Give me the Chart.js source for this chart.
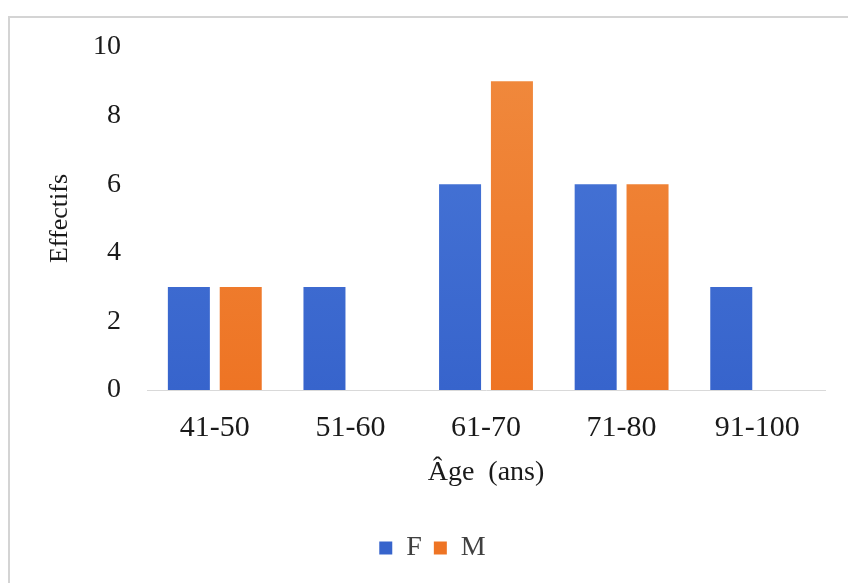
<!DOCTYPE html>
<html>
<head>
<meta charset="utf-8">
<script src="https://cdn.jsdelivr.net/npm/chart.js@4"></script>
<style>
  html, body { margin: 0; padding: 0; background: #fff; }
  #wrap { width: 848px; height: 583px; position: relative; }
</style>
</head>
<body>
<div id="wrap"><canvas id="chart" width="848" height="583"></canvas></div>
<script>
const ageGroups = ['41-50', '51-60', '61-70', '71-80', '91-100'];
const femmes = [3, 3, 6, 6, 3];
const hommes = [3, 0, 9, 6, 0];
const yTicks = [0, 2, 4, 6, 8, 10];

const serif = '"Liberation Serif", "Times New Roman", serif';

// vertical shading like the office-style bars
function shade(ctx, top, bottom) {
    const area = ctx.chart.chartArea;
    if (!area) return top;
    const g = ctx.chart.ctx.createLinearGradient(0, area.top, 0, area.bottom);
    g.addColorStop(0, top);
    g.addColorStop(1, bottom);
    return g;
}

// light grey frame at top/left, as in the pasted figure
const framePlugin = {
    id: 'frame',
    beforeDraw(chart) {
        const c = chart.ctx;
        c.save();
        c.fillStyle = '#fff';
        c.fillRect(0, 0, chart.width, chart.height);
        c.strokeStyle = '#d4d4d4';
        c.lineWidth = 2;
        c.beginPath();
        c.moveTo(9, chart.height);
        c.lineTo(9, 17);
        c.lineTo(chart.width, 17);
        c.stroke();
        c.restore();
    }
};

new Chart(document.getElementById('chart'), {
    type: 'bar',
    data: {
        labels: ageGroups,
        datasets: [
            {
                label: 'F',
                data: femmes,
                backgroundColor: (ctx) => shade(ctx, '#4a78d8', '#3764cc'),
                categoryPercentage: 0.765,
                barPercentage: 0.81
            },
            {
                label: 'M',
                data: hommes,
                backgroundColor: (ctx) => shade(ctx, '#f08a3e', '#ee7424'),
                categoryPercentage: 0.765,
                barPercentage: 0.81
            }
        ]
    },
    options: {
        responsive: false,
        animation: false,
        layout: { padding: { left: 40, right: 23, top: 47, bottom: 11 } },
        plugins: {
            legend: {
                position: 'bottom',
                labels: {
                    font: { family: serif, size: 28 },
                    color: '#404040',
                    boxWidth: 13,
                    boxHeight: 13,
                    padding: 12
                }
            },
            tooltip: { enabled: false }
        },
        scales: {
            x: {
                grid: { display: false, drawTicks: false },
                border: { color: '#d9d9d9', width: 1 },
                ticks: {
                    font: { family: serif, size: 30 },
                    color: '#1a1a1a',
                    padding: 20
                },
                title: {
                    display: true,
                    text: 'Âge  (ans)',
                    font: { family: serif, size: 28 },
                    color: '#1a1a1a',
                    padding: { top: 4, bottom: 33 }
                },
                afterFit: (s) => { s.height = 132; }
            },
            y: {
                min: 0,
                max: 10,
                grid: { display: false, drawTicks: false },
                border: { display: false },
                afterBuildTicks: (s) => { s.ticks = yTicks.map(v => ({ value: v })); },
                ticks: {
                    font: { family: serif, size: 28 },
                    color: '#1a1a1a',
                    padding: 26
                },
                title: {
                    display: true,
                    text: 'Effectifs',
                    font: { family: serif, size: 26 },
                    color: '#1a1a1a',
                    padding: { top: 5, bottom: 0 }
                },
                afterFit: (s) => { s.width = 107; }
            }
        }
    },
    plugins: [framePlugin]
});
</script>
</body>
</html>
